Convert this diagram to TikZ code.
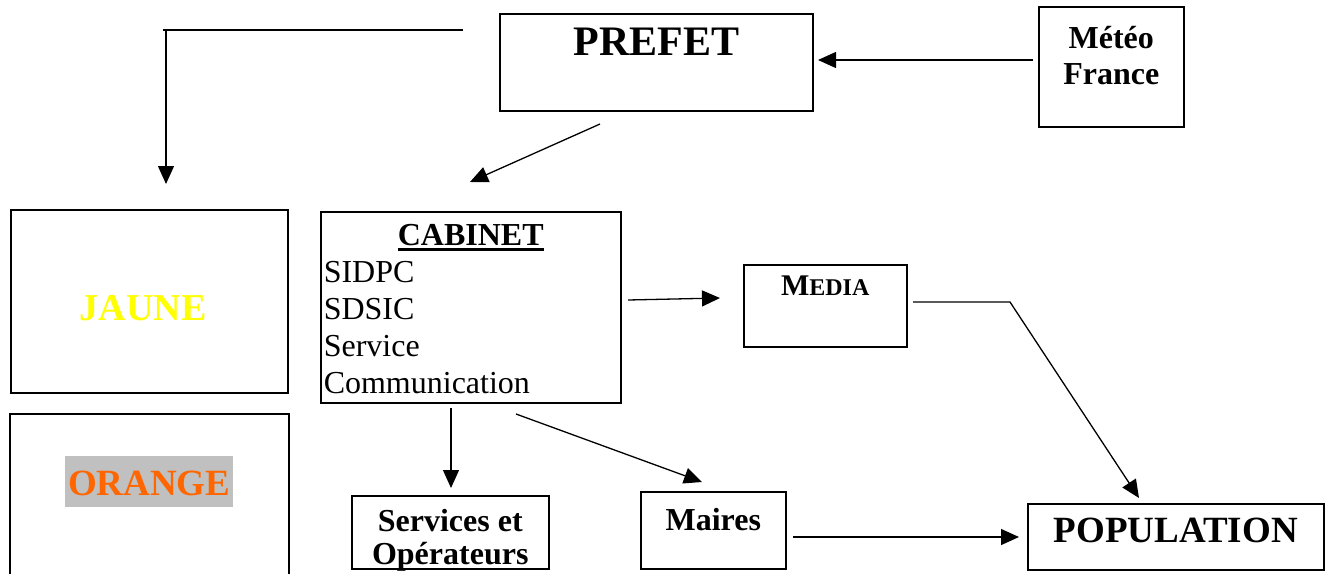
\documentclass[tikz,border=0pt]{standalone}
\usepackage{fontspec}
\setmainfont{Liberation Serif}
\usetikzlibrary{arrows.meta}
\definecolor{jaune}{RGB}{255,255,0}
\definecolor{orangevif}{RGB}{255,102,0}
\definecolor{surligne}{RGB}{192,192,192}
\newcommand{\boxtxt}[4]{\parbox[c][#2][t]{#1}{\vspace*{\dimexpr#3-40pt\relax}\centering\rule{0pt}{40pt}#4}}
\newcommand{\soulign}[1]{\setbox0=\hbox{#1}\rlap{\rule[-5pt]{\wd0}{2.5pt}}\box0}
\begin{document}
\begin{tikzpicture}[x=1pt,y=-1pt,
    box/.style={draw,line width=1.5pt,inner sep=0pt,anchor=north west},
    fleche/.style={line width=1.3pt,-{Triangle[length=18pt,width=16pt]}},
    trait/.style={line width=1.3pt}]
    \clip (0,0) rectangle (1328,573);
    \node[box] (prefet) at (499,13) {\boxtxt{313pt}{97pt}{42pt}{\fontsize{42}{48}\selectfont\bfseries PREFET}};
    \node[box] (meteo) at (1038,6) {\boxtxt{145pt}{120pt}{42pt}{\fontsize{32}{36}\selectfont\bfseries Météo\\France}};
    \node[box] (jaune) at (10,209) {\boxtxt{277pt}{183pt}{111pt}{\fontsize{38}{44}\selectfont\bfseries\color{jaune}JAUNE\hspace*{12pt}}};
    \node[box] (orange) at (9,413) {\boxtxt{279pt}{190pt}{82pt}{\fontsize{37}{44}\selectfont\bfseries\colorbox{surligne}{\color{orangevif}\rule[-8pt]{0pt}{45pt}ORANGE}}};
    \node[box] (cabinet) at (320,211) {\boxtxt{300pt}{191pt}{34pt}{\fontsize{32}{37}\selectfont\textbf{\soulign{CABINET}}\par
        \raggedright\leftskip=3pt SIDPC\par SDSIC\par Service\par Communication}};
    \node[box] (media) at (743,264) {\boxtxt{163pt}{82pt}{31pt}{\bfseries{\fontsize{30}{34}\selectfont M}{\fontsize{24}{28}\selectfont EDIA}}};
    \node[box] (services) at (351,495) {\boxtxt{197pt}{73pt}{36pt}{\fontsize{32}{33}\selectfont\bfseries Services et\\Opérateurs}};
    \node[box] (maires) at (640,491) {\boxtxt{145pt}{77pt}{39pt}{\fontsize{32}{36}\selectfont\bfseries Maires}};
    \node[box] (population) at (1027,503) {\boxtxt{296pt}{66pt}{39pt}{\fontsize{37}{42}\selectfont\bfseries POPULATION}};
    \coordinate (m1) at (1033,60);
    \coordinate (m2) at (818,60);
    \coordinate (p1) at (463,30);
    \coordinate (p0) at (163,30);
    \coordinate (p2) at (166,30);
    \coordinate (j1) at (166,184);
    \coordinate (p3) at (600,124);
    \coordinate (c1) at (470,182);
    \coordinate (c2) at (628,300);
    \coordinate (me1) at (720,298);
    \coordinate (me2) at (913,302);
    \coordinate (me3) at (1010,302);
    \coordinate (po1) at (1139,498);
    \coordinate (c3) at (451,408);
    \coordinate (s1) at (451,488);
    \coordinate (c4) at (516,414);
    \coordinate (ma1) at (702,482);
    \coordinate (ma2) at (793,537);
    \coordinate (po2) at (1019,537);
    \draw[fleche] (m1) -- (m2);
    \draw[trait] (p1) -- (p0);
    \draw[fleche] (p2) -- (j1);
    \draw[fleche] (p3) -- (c1);
    \draw[fleche] (c2) -- (me1);
    \draw[fleche] (me2) -- (me3) -- (po1);
    \draw[fleche] (c3) -- (s1);
    \draw[fleche] (c4) -- (ma1);
    \draw[fleche] (ma2) -- (po2);
\end{tikzpicture}
\end{document}
